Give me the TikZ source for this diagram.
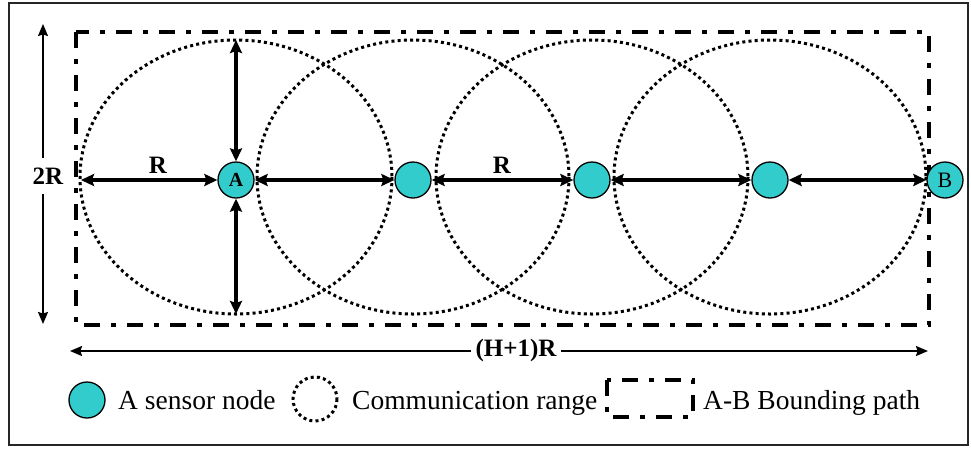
\documentclass[tikz,border=0pt]{standalone}
\usepackage{fontspec}
\setmainfont{Liberation Serif}
\usepackage{tikz}
\usetikzlibrary{arrows.meta}
\definecolor{sensorcyan}{HTML}{33CCCC}

\begin{document}
\begin{tikzpicture}[x=1pt, y=-1pt,
  sensor/.style={circle, draw=black, line width=1.3pt, fill=sensorcyan, minimum size=36pt, inner sep=0pt},
  commrange/.style={line width=3pt, dash pattern=on 3pt off 3.2pt},
  boundpath/.style={line width=3.6pt, dash pattern=on 16pt off 11pt on 5pt off 11pt},
  hoparrow/.style={line width=3.2pt, >={Stealth[length=13pt,width=12pt,inset=2pt]}, <->},
  dimline/.style={line width=1.6pt, >={Stealth[length=12pt,width=10pt,inset=1.5pt]}, ->},
  lbl/.style={font=\fontsize{25}{28}\selectfont\bfseries},
  legtxt/.style={font=\fontsize{27.5}{30}\selectfont, anchor=base west, inner sep=0pt}]

  % Frame
  \useasboundingbox (0,0) rectangle (971,448);
  \draw[line width=1.5pt, black!85] (9,3) rectangle (968,445);

  % A-B bounding path
  \draw[boundpath] (76,32) rectangle (929,325);

  % Communication ranges
  \foreach \x in {236,413,592,770}
    \draw[commrange] (\x,177) ellipse (156 and 137);

  % Sensor nodes
  \node[sensor, font=\fontsize{20}{22}\selectfont\bfseries] (A) at (236,180) {A};
  \node[sensor] (s2) at (413,180) {};
  \node[sensor] (s3) at (592,180) {};
  \node[sensor] (s4) at (770,180) {};
  \node[sensor, font=\fontsize{22}{24}\selectfont] (B) at (945,180) {B};

  % Radius arrows around A
  \coordinate (Aleft) at (81,180);
  \coordinate (Atop) at (236,40);
  \coordinate (Abot) at (236,314);
  \draw[hoparrow] (Aleft) -- (A);
  \draw[hoparrow] (A) -- (Atop);
  \draw[hoparrow] (A) -- (Abot);
  \node[lbl] at (158,165) {R};

  % Hops from A to B
  \draw[hoparrow] (A) -- (s2);
  \draw[hoparrow] (s2) -- (s3);
  \draw[hoparrow] (s3) -- (s4);
  \draw[hoparrow] (s4) -- (B);
  \node[lbl] at (502,165) {R};

  % Height 2R
  \node[lbl, inner sep=10pt] (twoR) at (48,176) {2R};
  \coordinate (dimtop) at (43,24);
  \coordinate (dimbot) at (43,324);
  \draw[dimline] (twoR.north -| dimtop) -- (dimtop);
  \draw[dimline] (twoR.south -| dimbot) -- (dimbot);

  % Length (H+1)R
  \node[lbl, inner sep=4pt] (HR) at (516,350) {(H+1)R};
  \coordinate (dimleft) at (70,351);
  \coordinate (dimright) at (928,351);
  \draw[dimline] (HR.west |- dimleft) -- (dimleft);
  \draw[dimline] (HR.east |- dimright) -- (dimright);

  % Legend
  \node[sensor] (legnode) at (87,400) {};
  \node[legtxt] at (118,409) {A sensor node};
  \draw[commrange] (315,399) circle (22);
  \node[legtxt] at (352,409) {Communication range};
  \draw[boundpath] (607,380) rectangle (693,417);
  \node[legtxt] at (703,409) {A-B Bounding path};
\end{tikzpicture}
\end{document}
